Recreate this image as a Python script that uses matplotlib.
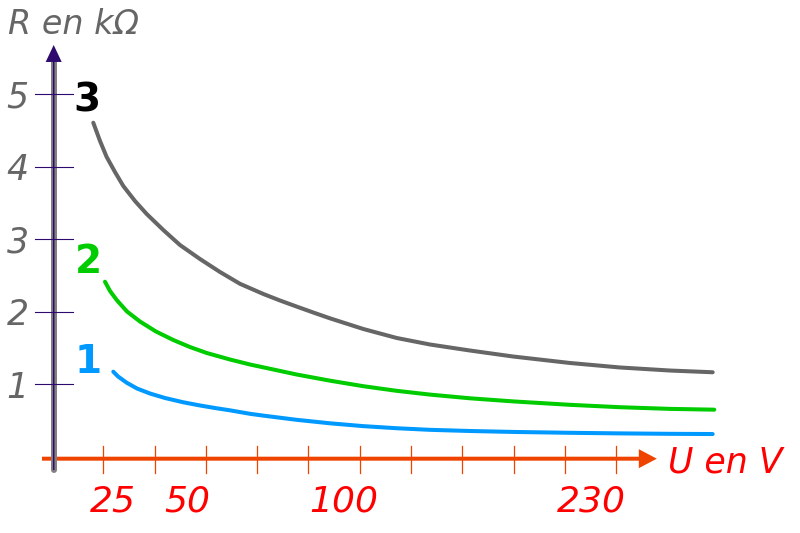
import matplotlib
matplotlib.use("Agg")
import matplotlib.pyplot as plt

# ---- data (U axis in tick units, R in kOhm) ----
curve3_u = [0.805, 0.936, 1.066, 1.228, 1.390, 1.618, 1.846, 2.170, 2.495, 2.885, 3.275, 3.665,
            4.119, 4.444, 4.770, 5.094, 5.419, 6.068, 6.719, 7.368, 8.148, 8.992, 10.097,
            11.072, 12.047, 12.879]
curve3_r = [4.608, 4.356, 4.135, 3.928, 3.735, 3.528, 3.349, 3.128, 2.921, 2.728, 2.549, 2.386,
            2.246, 2.156, 2.072, 1.990, 1.910, 1.763, 1.639, 1.549, 1.466, 1.383, 1.294,
            1.232, 1.190, 1.166]

curve2_u = [1.033, 1.131, 1.261, 1.462, 1.715, 2.027, 2.365, 2.690, 3.016, 3.470, 3.860, 4.119,
            4.770, 5.419, 6.068, 6.719, 7.368, 8.148, 8.992, 10.097, 11.072, 12.047, 12.910]
curve2_r = [2.415, 2.287, 2.163, 2.004, 1.866, 1.728, 1.611, 1.514, 1.432, 1.342, 1.273, 1.234,
            1.135, 1.050, 0.974, 0.910, 0.858, 0.807, 0.764, 0.717, 0.684, 0.661, 0.650]

curve1_u = [1.195, 1.287, 1.456, 1.657, 1.910, 2.203, 2.559, 2.885, 3.211, 3.470, 3.860, 4.119,
            4.770, 5.419, 6.068, 6.719, 7.368, 8.148, 8.992, 10.097, 11.072, 12.047, 12.879]
curve1_r = [1.174, 1.108, 1.022, 0.942, 0.873, 0.811, 0.752, 0.708, 0.669, 0.641, 0.593, 0.568,
            0.510, 0.462, 0.423, 0.394, 0.372, 0.356, 0.343, 0.331, 0.323, 0.317, 0.314]

y_ticks = [1, 2, 3, 4, 5]
y_tick_labels = ["1", "2", "3", "4", "5"]
x_ticks = [1, 2, 3, 4, 5, 6, 7, 8, 9, 10, 11]
x_label_pos = [1.18, 2.64, 5.69, 10.51]
x_labels = ["25", "50", "100", "230"]

curve_names = ["3", "2", "1"]
curve_colors = ["#666666", "#00CC00", "#0099FF"]
name_colors = ["#000000", "#00CC00", "#0099FF"]
name_u = [0.68, 0.71, 0.70]
name_r = [4.76, 2.53, 1.15]

# ---- figure ----
fig = plt.figure(figsize=(8, 5.33), dpi=100)
ax = fig.add_axes([0, 0, 1, 1])
ax.set_xlim(-1.0136, 14.581)
ax.set_ylim(-1.051, 6.3007)
ax.axis("off")

orange = "#EE4400"
purple = "#2E0A6E"

# x axis
x_axis_r = -0.026
ax.arrow(-0.195, x_axis_r, 11.79 + 0.195, 0, width=0.055, head_width=0.262,
         head_length=0.351, length_includes_head=True, color=orange, lw=0, zorder=2)
for t in x_ticks:
    ax.plot([t, t], [0.149, -0.223], color=orange, lw=0.9, zorder=2)

# y axis
y_axis_u = 0.033
ax.plot([y_axis_u, y_axis_u], [-0.182, 5.446], color="#808080", lw=4.3,
        solid_capstyle="round", zorder=3)
ax.arrow(y_axis_u, -0.182, 0, 5.680 + 0.182, width=0.03, head_width=0.312,
         head_length=0.234, length_includes_head=True, color=purple, lw=0, zorder=4)
for t in y_ticks:
    ax.plot([-0.331, 0.415], [t, t], color=purple, lw=0.8, zorder=4)

# tick labels
for t, lab in zip(y_ticks, y_tick_labels):
    ax.text(-0.67, t - 0.186, lab, color="#666666", fontsize=25, style="italic",
            ha="center", va="baseline")
for p, lab in zip(x_label_pos, x_labels):
    ax.text(p, -0.748, lab, color="#FF0000", fontsize=26, style="italic",
            ha="center", va="baseline")

ax.text(-0.86, 5.832, "R en kΩ", color="#666666", fontsize=24, style="italic",
        ha="left", va="baseline")
ax.text(12.0, -0.223, "U en V", color="#FF0000", fontsize=25, style="italic",
        ha="left", va="baseline")

# curves
for u, r, c in zip([curve3_u, curve2_u, curve1_u], [curve3_r, curve2_r, curve1_r], curve_colors):
    ax.plot(u, r, color=c, lw=2.9, solid_capstyle="round", solid_joinstyle="round", zorder=5)

for n, c, u, r in zip(curve_names, name_colors, name_u, name_r):
    ax.text(u, r, n, color=c, fontsize=28, fontweight="bold", ha="center", va="baseline")

fig.savefig("out.png", dpi=100)
